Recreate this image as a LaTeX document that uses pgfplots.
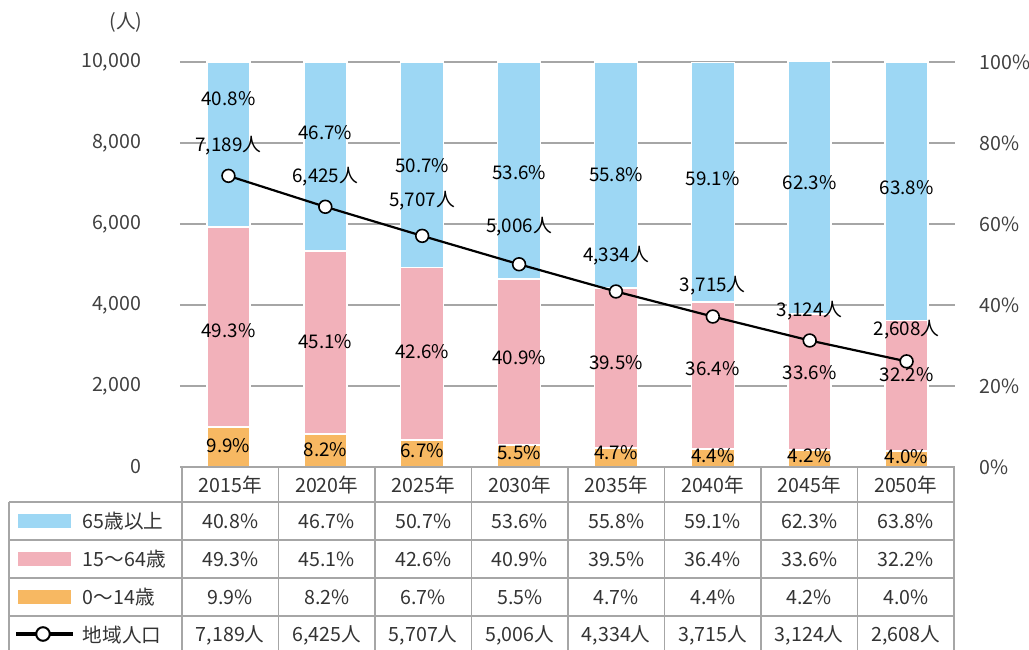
\documentclass[border=0pt]{standalone}
\usepackage{fontspec}
\setmainfont{Noto Sans CJK JP}
\usepackage{pgfplots}
\pgfplotsset{compat=1.18}

\definecolor{olderblue}{HTML}{9DD7F4}
\definecolor{workpink}{HTML}{F2B1BA}
\definecolor{childorange}{HTML}{F7B862}
\definecolor{gridgray}{HTML}{A6A6A6}
\definecolor{ticktext}{HTML}{404040}
\definecolor{tabletext}{HTML}{333333}

% 1 px of the reference = 0.5pt
\pgfplotsset{
  base/.style={
    at={(90pt,-233.5pt)}, anchor=south west,
    scale only axis, width=387.5pt, height=202.5pt,
    xmin=-0.5, xmax=7.5, clip=false,
    axis x line=none,
    major tick length=0pt,
    /pgf/number format/assume math mode=true,
    tick label style={font=\fontsize{9.8}{11}\selectfont, text=ticktext},
  },
  labels/.style={
    draw=none, mark=none, nodes near coords, point meta=explicit symbolic,
    every node near coord/.append style={anchor=center, font=\fontsize{9.4}{11}\selectfont, text=black, inner sep=0pt},
  },
}

\begin{document}
\fontsize{9.8}{11}\selectfont
\begin{tikzpicture}

% grid and left scale
\begin{axis}[base, ymin=0, ymax=10000, ytick={0,2000,...,10000},
  axis y line*=left, y axis line style={draw=none},
  scaled y ticks=false,
  ymajorgrids, grid style={gridgray, line width=0.75pt},
  yticklabel style={xshift=-16pt, /pgf/number format/fixed, /pgf/number format/1000 sep={,}}]
\end{axis}

% stacked shares, right scale
\begin{axis}[base, ymin=0, ymax=100, ytick={0,20,...,100},
  axis y line*=right, y axis line style={draw=none},
  yticklabel={\pgfmathprintnumber{\tick}\%}, yticklabel style={xshift=9pt},
  ybar stacked, bar width=0.444]
\addplot[fill=childorange, draw=white, line width=0.8pt] coordinates
  {(0,9.9) (1,8.2) (2,6.7) (3,5.5) (4,4.7) (5,4.4) (6,4.2) (7,4.0)};
\addplot[fill=workpink, draw=white, line width=0.8pt] coordinates
  {(0,49.3) (1,45.1) (2,42.6) (3,40.9) (4,39.5) (5,36.4) (6,33.6) (7,32.2)};
\addplot[fill=olderblue, draw=white, line width=0.8pt] coordinates
  {(0,40.8) (1,46.7) (2,50.7) (3,53.6) (4,55.8) (5,59.1) (6,62.3) (7,63.8)};
\end{axis}

% share labels
\begin{axis}[base, ymin=0, ymax=100, hide axis]
\addplot[labels] coordinates {
  (0,90.9) [40.8\%] (1,82.5) [46.7\%] (2,74.3) [50.7\%] (3,72.8) [53.6\%]
  (4,72.3) [55.8\%] (5,71.1) [59.1\%] (6,70.1) [62.3\%] (7,69.1) [63.8\%]};
\addplot[labels] coordinates {
  (0,33.8) [49.3\%] (1,30.9) [45.1\%] (2,28.6) [42.6\%] (3,26.9) [40.9\%]
  (4,25.7) [39.5\%] (5,24.4) [36.4\%] (6,23.2) [33.6\%] (7,22.7) [32.2\%]};
\addplot[labels] coordinates {
  (0,5.2) [9.9\%] (1,4.4) [8.2\%] (2,4.0) [6.7\%] (3,3.5) [5.5\%]
  (4,3.5) [4.7\%] (5,2.7) [4.4\%] (6,2.7) [4.2\%] (7,2.5) [4.0\%]};
\end{axis}

% population line, left scale
\begin{axis}[base, ymin=0, ymax=10000, hide axis]
\addplot[black, line width=1.1pt, mark=*, mark size=3.2pt,
  mark options={fill=white, draw=black, line width=0.8pt}] coordinates
  {(0,7189) (1,6425) (2,5707) (3,5006) (4,4334) (5,3715) (6,3124) (7,2608)};
\addplot[labels] coordinates {
  (0,7926) [7,189人] (1,7160) [6,425人] (2,6568) [5,707人] (3,5926) [5,006人]
  (4,5210) [4,334人] (5,4469) [3,715人] (6,3852) [3,124人] (7,3383) [2,608人]};
\end{axis}

% unit label and data table (reference pixel coordinates)
\begin{scope}[x=0.5pt, y=-0.5pt]
\node[text=ticktext] at (126,22) {(人)};
\begin{scope}[draw=gridgray, line width=0.75pt]
\draw (182,467) -- (954,467);
\foreach \yy in {502,540,578,616,654} \draw (9,\yy) -- (954,\yy);
\foreach \k in {0,...,8} \draw ({182+96.5*\k},467) -- ({182+96.5*\k},654);
\draw (9,502) -- (9,654);
\end{scope}
\begin{scope}[text=tabletext]
\foreach \lab [count=\i from 0] in {2015年,2020年,2025年,2030年,2035年,2040年,2045年,2050年}
  \node at ({230.25+96.5*\i},485) {\lab};
\foreach \lab [count=\i from 0] in {40.8\%,46.7\%,50.7\%,53.6\%,55.8\%,59.1\%,62.3\%,63.8\%}
  \node at ({230.25+96.5*\i},521) {\lab};
\foreach \lab [count=\i from 0] in {49.3\%,45.1\%,42.6\%,40.9\%,39.5\%,36.4\%,33.6\%,32.2\%}
  \node at ({230.25+96.5*\i},559) {\lab};
\foreach \lab [count=\i from 0] in {9.9\%,8.2\%,6.7\%,5.5\%,4.7\%,4.4\%,4.2\%,4.0\%}
  \node at ({230.25+96.5*\i},597) {\lab};
\foreach \lab [count=\i from 0] in {7{,}189人,6{,}425人,5{,}707人,5{,}006人,4{,}334人,3{,}715人,3{,}124人,2{,}608人}
  \node at ({230.25+96.5*\i},635) {\lab};
% legend column
\fill[olderblue] (18,514) rectangle (71,528);
\node[anchor=west] at (76,521) {65歳以上};
\fill[workpink] (18,552) rectangle (71,566);
\node[anchor=west] at (76,559) {15〜64歳};
\fill[childorange] (18,590) rectangle (71,604);
\node[anchor=west] at (76,597) {0〜14歳};
\draw[black, line width=2pt] (16,634) -- (73,634);
\draw[black, fill=white, line width=1pt] (43,634) circle[radius=3.4pt];
\node[anchor=west] at (76,635) {地域人口};
\end{scope}
\pgfresetboundingbox
\path[use as bounding box] (0,0) rectangle (1029,649);
\end{scope}

\end{tikzpicture}
\end{document}
